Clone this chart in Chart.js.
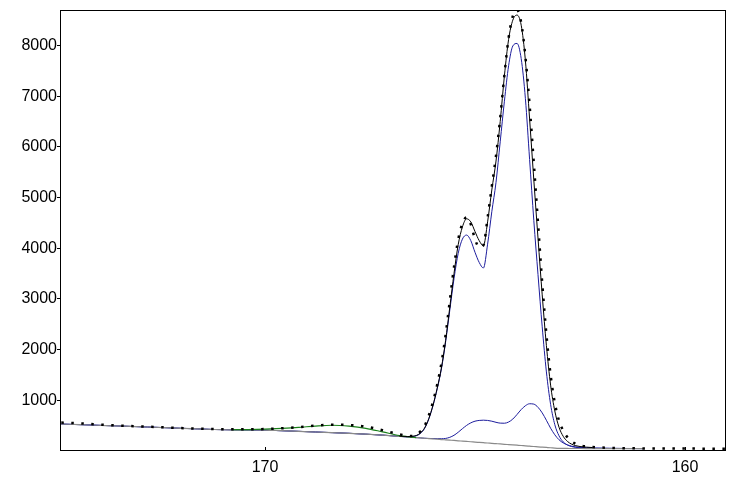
<!DOCTYPE html>
<html>
<head>
<meta charset="utf-8">
<script src="https://cdn.jsdelivr.net/npm/chart.js@4.4.1/dist/chart.umd.min.js"></script>
<style>
  html, body { margin: 0; padding: 0; background: #fff; }
  #wrap { width: 736px; height: 479px; }
</style>
</head>
<body>
<div id="wrap"><canvas id="c" width="736" height="479"></canvas></div>
<script>
// Binding energy grid (eV)
const bindingEnergy = [
  174.85, 174.4, 174.0, 173.6, 173.2, 172.8, 172.4, 172.0, 171.6, 171.2, 170.8,
  170.4, 170.0, 169.6, 169.2, 168.8, 168.4, 168.0, 167.6, 167.2, 166.8,
  166.6, 166.5, 166.4, 166.3, 166.2, 166.1, 166.0, 165.9, 165.8, 165.7,
  165.6, 165.5, 165.4, 165.3, 165.2, 165.1, 165.0, 164.9, 164.8, 164.7,
  164.6, 164.5, 164.4, 164.3, 164.2, 164.1, 164.0, 163.9, 163.8, 163.7,
  163.6, 163.5, 163.4, 163.3, 163.2, 163.1, 163.0, 162.9, 162.8, 162.7,
  162.6, 162.5,
  162.2, 161.8, 161.4, 161.0, 160.6, 160.2, 159.8, 159.4, 159.05
];

// Measured counts (dotted)
const measured = [
  560, 545, 525, 507, 492, 480, 466, 453, 442, 432, 428,
  430, 433, 448, 470, 500, 520, 512, 482, 410, 330,
  300, 298, 322, 385, 495, 700, 970, 1310, 1730, 2290,
  2960, 3630, 4170, 4490, 4610, 4470, 4180, 4020, 4060, 4600,
  5220, 5820, 6570, 7420, 8150, 8580, 8700, 8450, 7780, 6820,
  5680, 4500, 3320, 2300, 1500, 950, 600, 400, 270, 190,
  140, 110,
  80, 62, 55, 50, 48, 47, 47, 46, 46
];

// Fit envelope (black)
const envelope = [
  null, null, null, null, null, null, null, null, null, null, null,
  null, null, null, null, null, null, null, null, null, 292,
  285, 290, 305, 355, 455, 640, 905, 1240, 1640, 2180,
  2840, 3500, 4070, 4420, 4580, 4520, 4330, 4150, 4050, 4520,
  5150, 5720, 6500, 7400, 8120, 8500, 8600, 8400, 7700, 6550,
  5350, 4200, 3080, 2080, 1300, 790, 470, 290, 190, 135,
  105, 88,
  68, null, null, null, null, null, null, null, null
];

// Main doublet component + background (blue)
const mainDoublet = [
  531, 520, 508, 497, 485, 473, 461, 448, 436, 424, 418,
  415, 412, 400, 388, 375, 362, 349, 332, 313, 290,
  280, 284, 300, 345, 445, 630, 895, 1225, 1620, 2150,
  2780, 3400, 3900, 4180, 4260, 4150, 3920, 3720, 3610, 4080,
  4720, 5300, 6100, 6900, 7600, 7990, 8040, 7740, 6950, 5750,
  4550, 3480, 2450, 1560, 920, 520, 300, 180, 120, 88,
  72, 64,
  56, 52, 49, 47, null, null, null, null, null
];

// Minor doublet component + background (blue)
const minorDoublet = [
  531, 520, 508, 497, 485, 473, 461, 448, 436, 424, 418,
  415, 412, 400, 388, 375, 362, 349, 332, 313, 290,
  276, 270, 264, 258, 252, 248, 245, 243, 242, 248,
  270, 310, 370, 440, 505, 555, 588, 603, 608, 603,
  588, 566, 550, 548, 572, 630, 720, 818, 893, 932,
  925, 862, 752, 606, 450, 320, 222, 160, 120, 95,
  80, 70,
  58, 53, 50, 48, null, null, null, null, null
];

// Broad component + background (green)
const broadComponent = [
  null, null, null, null, null, null, null, null, null, null, 419,
  423, 432, 447, 466, 492, 508, 490, 448, 378, 305,
  282, 272, 265, null, null, null, null, null, null, null,
  null, null, null, null, null, null, null, null, null, null,
  null, null, null, null, null, null, null, null, null, null,
  null, null, null, null, null, null, null, null, null, null,
  null, null,
  null, null, null, null, null, null, null, null, null
];

// Background (grey)
const background = [
  531, 520, 508, 497, 485, 473, 461, 448, 436, 424, 418,
  415, 412, 400, 388, 375, 362, 349, 332, 313, 290,
  276, 270, 264, 258, 251, 245, 239, 233, 226, 220,
  214, 208, 201, 195, 189, 183, 176, 170, 164, 158,
  151, 145, 139, 132, 126, 120, 114, 108, 101, 95,
  89, 82, 76, 70, 64, 57, 52, 50, 50, 49,
  49, 49,
  48, 48, 47, 47, null, null, null, null, null
];

const xTickValues = [170, 160];
const yTickValues = [1000, 2000, 3000, 4000, 5000, 6000, 7000, 8000];

function pts(arr) {
  return bindingEnergy.map((x, i) => ({ x: x, y: arr[i] }));
}

const framePlugin = {
  id: 'frame',
  afterDatasetsDraw(chart) {
    const { ctx, chartArea: a } = chart;
    ctx.save();
    ctx.strokeStyle = '#000';
    ctx.lineWidth = 1;
    ctx.strokeRect(Math.round(a.left) - 0.5, Math.round(a.top) + 0.5,
                   Math.round(a.right) - Math.round(a.left), Math.round(a.bottom) - Math.round(a.top) - 1);
    // inner x tick marks
    const xs = chart.scales.x;
    ctx.beginPath();
    xs.ticks.forEach(t => {
      const px = Math.round(xs.getPixelForValue(t.value)) + 0.5;
      ctx.moveTo(px, Math.round(a.bottom) - 1);
      ctx.lineTo(px, Math.round(a.bottom) - 4);
    });
    ctx.stroke();
    ctx.restore();
  }
};

const fontSpec = { family: '"Liberation Sans", Arial, sans-serif', size: 16 };

new Chart(document.getElementById('c'), {
  type: 'line',
  data: {
    datasets: [
      { label: 'measured', data: pts(measured), borderColor: '#000', borderWidth: 2.5,
        borderDash: [2.5, 7.5], pointRadius: 0, order: 0, cubicInterpolationMode: 'monotone', spanGaps: false },
      { label: 'envelope', data: pts(envelope), borderColor: '#000', borderWidth: 1,
        pointRadius: 0, order: 1, cubicInterpolationMode: 'monotone', spanGaps: false },
      { label: 'broad', data: pts(broadComponent), borderColor: '#1a801a', borderWidth: 1.2,
        pointRadius: 0, order: 2, cubicInterpolationMode: 'monotone', spanGaps: false },
      { label: 'background', data: pts(background), borderColor: '#8a8a8a', borderWidth: 1.2,
        pointRadius: 0, order: 3, cubicInterpolationMode: 'monotone', spanGaps: false },
      { label: 'minor', data: pts(minorDoublet), borderColor: '#1c1c9c', borderWidth: 1,
        pointRadius: 0, order: 4, cubicInterpolationMode: 'monotone', spanGaps: false },
      { label: 'main', data: pts(mainDoublet), borderColor: '#1c1c9c', borderWidth: 1,
        pointRadius: 0, order: 5, cubicInterpolationMode: 'monotone', spanGaps: false }
    ]
  },
  options: {
    responsive: false,
    animation: false,
    events: [],
    layout: { padding: { top: 10, right: 10, left: 0, bottom: 0 } },
    plugins: { legend: { display: false }, tooltip: { enabled: false } },
    scales: {
      x: {
        type: 'linear',
        reverse: true,
        min: 159.024,
        max: 174.857,
        border: { display: false },
        grid: { display: false, drawTicks: false },
        ticks: { font: fontSpec, color: '#000', padding: 7, maxRotation: 0, autoSkip: false,
                 callback: v => String(v) },
        afterBuildTicks: s => { s.ticks = xTickValues.map(v => ({ value: v })); },
        afterFit: s => { s.height = 28; }
      },
      y: {
        min: 0,
        max: 8700,
        border: { display: false },
        grid: { drawOnChartArea: false, drawTicks: true, tickLength: 4, color: '#000' },
        ticks: { font: fontSpec, color: '#000', padding: 0, callback: v => String(v) },
        afterBuildTicks: s => { s.ticks = yTickValues.map(v => ({ value: v })); },
        afterFit: s => { s.width = 61; }
      }
    }
  },
  plugins: [framePlugin]
});
</script>
</body>
</html>
